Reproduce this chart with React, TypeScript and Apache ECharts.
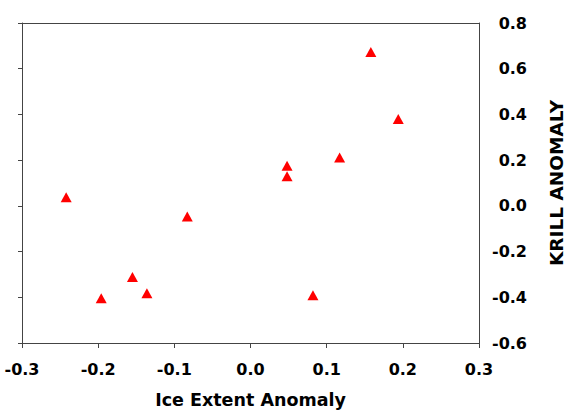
import React, { useEffect, useRef } from "react";
import * as echarts from "echarts";

const iceExtent = [0.158, 0.194, 0.117, 0.048, 0.048, -0.242, -0.083, -0.155, -0.196, -0.136, 0.082];
const krill = [0.673, 0.38, 0.212, 0.176, 0.129, 0.038, -0.047, -0.311, -0.404, -0.382, -0.391];

const xTitle = "Ice Extent Anomaly";
const yTitle = "KRILL ANOMALY";

const FONT = "DejaVu Sans";
const AXIS_COLOR = "#444";

export default function App() {
  const ref = useRef<HTMLDivElement>(null);
  useEffect(() => {
    if (!ref.current) return;
    const chart = echarts.init(ref.current, undefined, { renderer: "svg" });
    const points = iceExtent.map((x, i) => [x, krill[i]]);
    chart.setOption({
      animation: false,
      backgroundColor: "#fff",
      grid: { left: 22, right: 87, top: 23, bottom: 69, outerBoundsMode: "none", containLabel: false },
      xAxis: [
        {
          type: "value",
          position: "bottom",
          min: -0.3,
          max: 0.3,
          interval: 0.1,
          name: xTitle,
          nameLocation: "middle",
          nameGap: 48,
          nameTextStyle: { fontFamily: FONT, fontWeight: "bold", fontSize: 17.5, color: "#000" },
          axisLine: { show: true, onZero: false, lineStyle: { color: AXIS_COLOR, width: 1 } },
          axisTick: { show: true, inside: false, length: 5, lineStyle: { color: AXIS_COLOR } },
          axisLabel: {
            margin: 18,
            fontFamily: FONT,
            fontWeight: "bold",
            fontSize: 16,
            color: "#000",
            formatter: (v: number) => v.toFixed(1),
          },
          splitLine: { show: false },
        },
        {
          type: "value",
          position: "top",
          min: -0.3,
          max: 0.3,
          interval: 0.1,
          axisLine: { show: true, onZero: false, lineStyle: { color: AXIS_COLOR, width: 1 } },
          axisTick: { show: false },
          axisLabel: { show: false },
          splitLine: { show: false },
        },
      ],
      yAxis: [
        {
          type: "value",
          position: "right",
          min: -0.6,
          max: 0.8,
          interval: 0.2,
          name: yTitle,
          nameLocation: "middle",
          nameRotate: 90,
          nameGap: 68,
          nameTextStyle: { fontFamily: FONT, fontWeight: "bold", fontSize: 18.5, color: "#000" },
          axisLine: { show: true, onZero: false, lineStyle: { color: AXIS_COLOR, width: 1 } },
          axisTick: { show: false },
          axisLabel: {
            margin: 48,
            align: "right",
            fontFamily: FONT,
            fontWeight: "bold",
            fontSize: 16,
            color: "#000",
            formatter: (v: number) => v.toFixed(1),
          },
          splitLine: { show: false },
        },
        {
          type: "value",
          position: "left",
          min: -0.6,
          max: 0.8,
          interval: 0.2,
          axisLine: { show: true, onZero: false, lineStyle: { color: AXIS_COLOR, width: 1 } },
          axisTick: { show: true, inside: false, length: 4, lineStyle: { color: AXIS_COLOR } },
          axisLabel: { show: false },
          splitLine: { show: false },
        },
      ],
      series: [
        {
          type: "scatter",
          xAxisIndex: 0,
          yAxisIndex: 0,
          symbol: "triangle",
          symbolSize: [11, 10],
          itemStyle: { color: "#ff0000", opacity: 1 },
          data: points,
        },
      ],
    });
    return () => chart.dispose();
  }, []);
  return (
    <div
      ref={ref}
      style={{ position: "absolute", left: 0, top: 0, width: 566, height: 412 }}
    />
  );
}
